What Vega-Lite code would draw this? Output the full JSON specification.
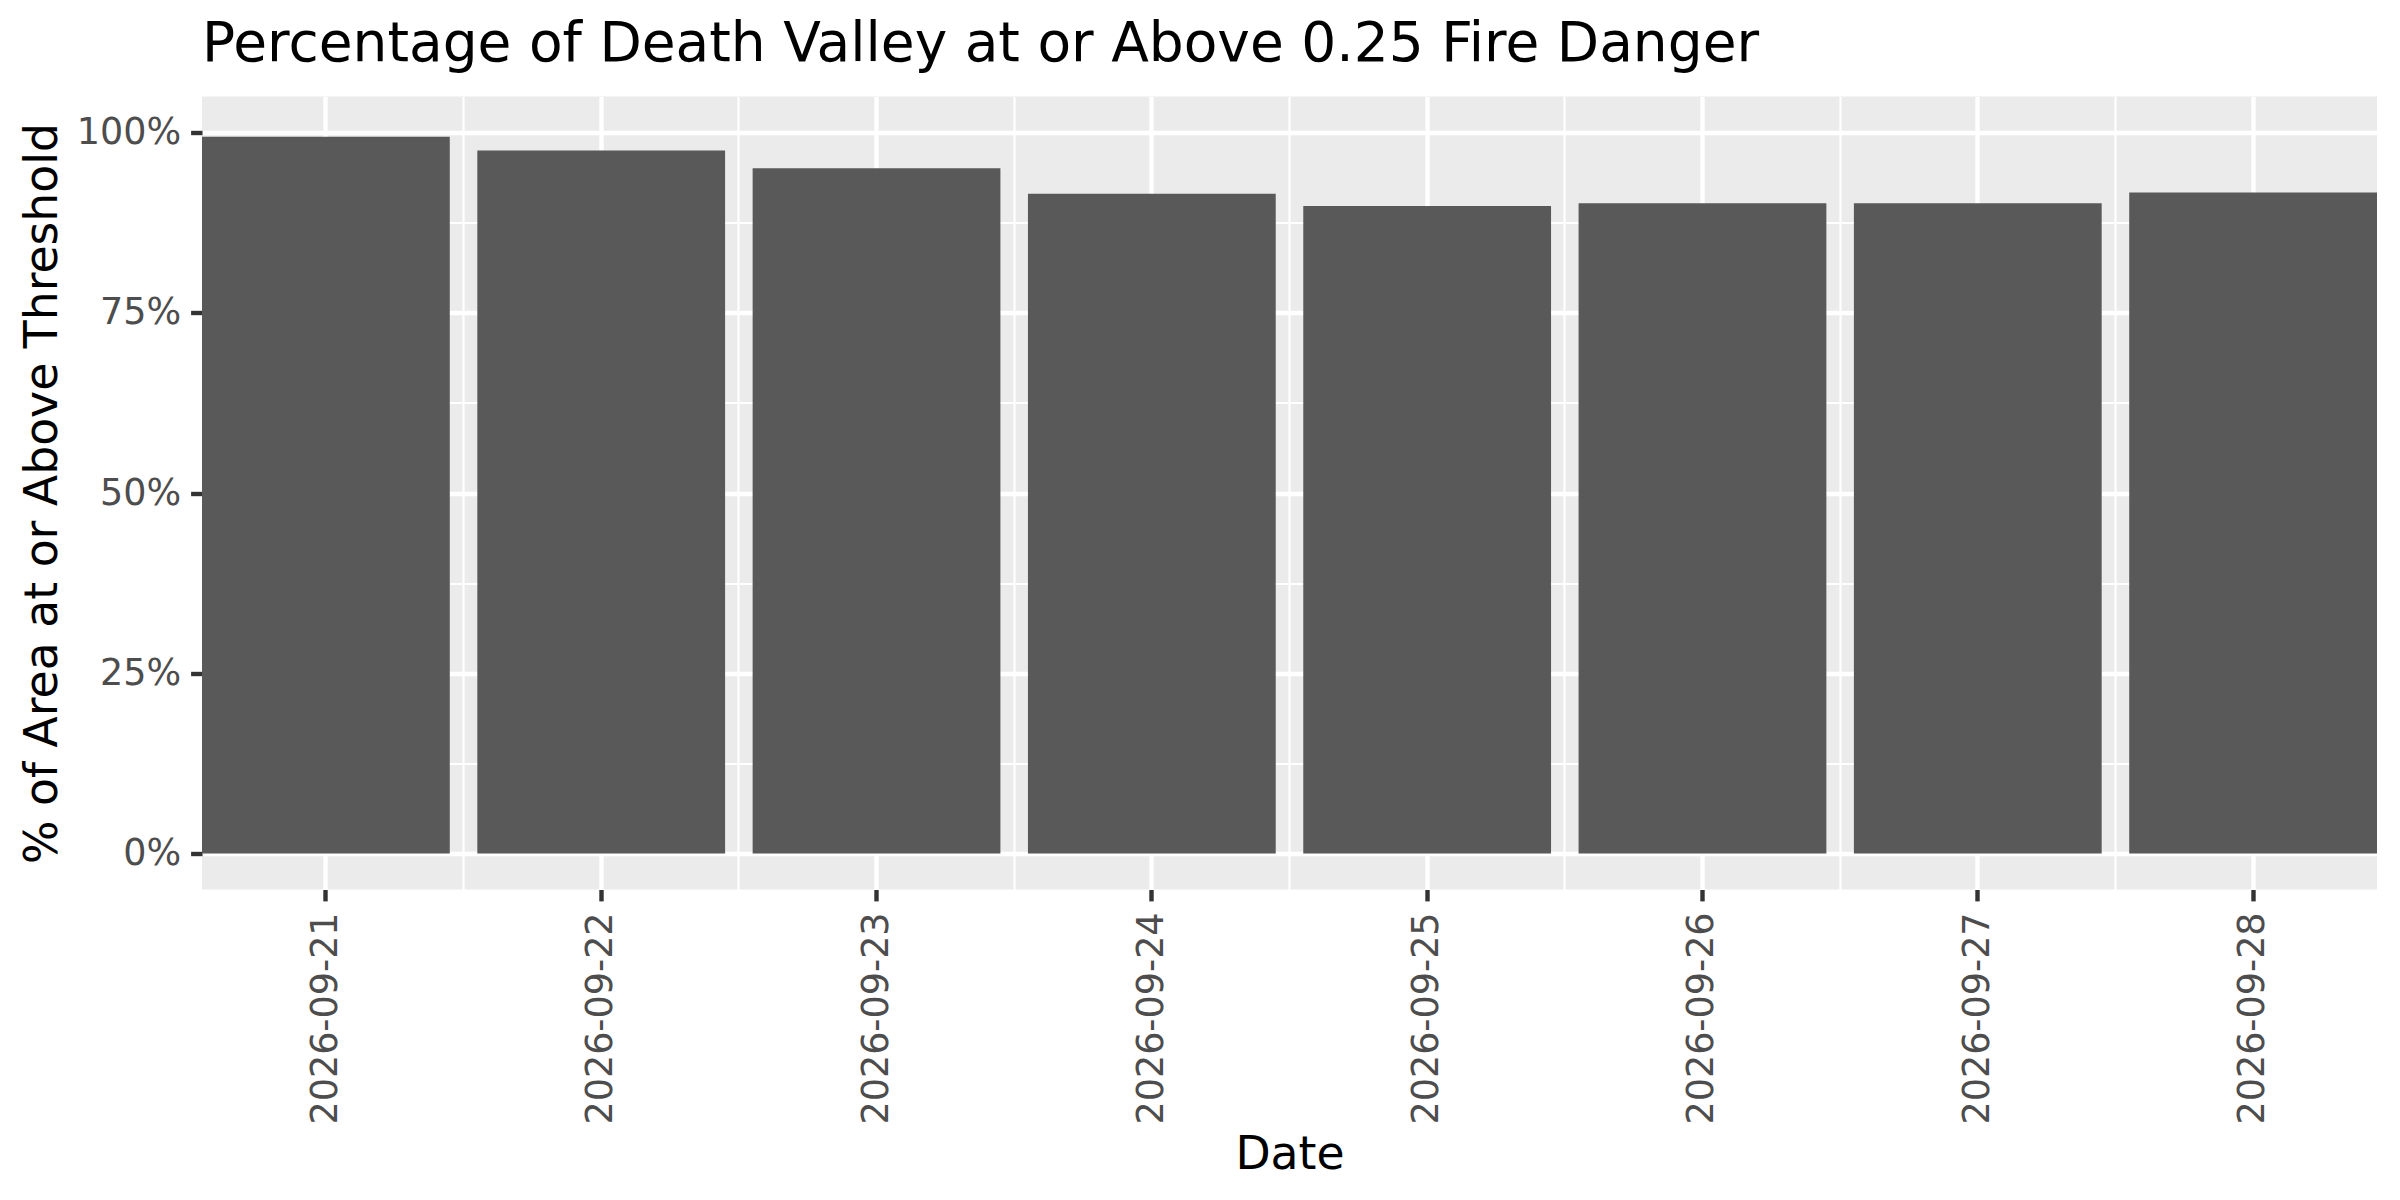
{
  "$schema": "https://vega.github.io/schema/vega-lite/v6.json",
  "width": 2175,
  "height": 793,
  "autosize": {"type": "none"},
  "padding": {"left": 202, "top": 96.5, "right": 23, "bottom": 310.5},
  "background": "white",
  "title": {
    "text": "Percentage of Death Valley at or Above 0.25 Fire Danger",
    "anchor": "start",
    "frame": "group",
    "font": "DejaVu Sans",
    "fontSize": 55,
    "fontWeight": "normal",
    "color": "#000000",
    "baseline": "alphabetic",
    "offset": 34,
    "dy": 53
  },
  "config": {
    "view": {"fill": "#EBEBEB", "stroke": null}
  },
  "data": {
    "values": [
      {"date": "2026-09-21", "pct": 0.994},
      {"date": "2026-09-22", "pct": 0.975},
      {"date": "2026-09-23", "pct": 0.9505},
      {"date": "2026-09-24", "pct": 0.915},
      {"date": "2026-09-25", "pct": 0.898},
      {"date": "2026-09-26", "pct": 0.902},
      {"date": "2026-09-27", "pct": 0.902},
      {"date": "2026-09-28", "pct": 0.917}
    ]
  },
  "layer": [
    {
      "mark": {"type": "bar", "opacity": 0},
      "encoding": {
        "x": {
          "field": "date", "type": "ordinal",
          "scale": {"paddingInner": 0.1, "paddingOuter": 0},
          "axis": {"title": null, "orient": "bottom", "bandPosition": 1.0556, "grid": true, "gridColor": "#FFFFFF", "gridWidth": 2.2, "domain": false, "ticks": false, "labels": false}
        },
        "y": {
          "field": "pct", "type": "quantitative",
          "scale": {"domain": [-0.05, 1.05], "nice": false, "zero": false},
          "axis": {"title": null, "orient": "left", "values": [0.125, 0.375, 0.625, 0.875], "grid": true, "gridColor": "#FFFFFF", "gridWidth": 2.2, "domain": false, "ticks": false, "labels": false}
        },
        "y2": {"datum": 0}
      }
    },
    {
      "mark": {"type": "bar", "fill": "#595959"},
      "encoding": {
        "x": {
          "field": "date", "type": "ordinal",
          "scale": {"paddingInner": 0.1, "paddingOuter": 0},
          "axis": {
            "title": "Date", "orient": "bottom", "bandPosition": 0.5,
            "grid": true, "gridColor": "#FFFFFF", "gridWidth": 4.4,
            "domain": false, "ticks": true, "tickSize": 11.4, "tickWidth": 4.4, "tickColor": "#333333",
            "labelAngle": 270, "labelAlign": "right", "labelBaseline": "middle", "labelLimit": 0,
            "labelFont": "DejaVu Sans", "labelFontSize": 36.5, "labelColor": "#4D4D4D", "labelPadding": 11,
            "titleFont": "DejaVu Sans", "titleFontSize": 45.7, "titleColor": "#000000", "titleFontWeight": "normal",
            "titleBaseline": "alphabetic", "titleY": 279
          }
        },
        "y": {
          "field": "pct", "type": "quantitative",
          "scale": {"domain": [-0.05, 1.05], "nice": false, "zero": false},
          "axis": {
            "title": "% of Area at or Above Threshold", "orient": "left",
            "values": [0, 0.25, 0.5, 0.75, 1], "format": ".0%",
            "grid": true, "gridColor": "#FFFFFF", "gridWidth": 4.4,
            "domain": false, "ticks": true, "tickSize": 11.4, "tickWidth": 4.4, "tickColor": "#333333",
            "labelFont": "DejaVu Sans", "labelFontSize": 36.5, "labelColor": "#4D4D4D", "labelPadding": 10,
            "titleFont": "DejaVu Sans", "titleFontSize": 45.7, "titleColor": "#000000", "titleFontWeight": "normal",
            "titleBaseline": "alphabetic", "titleX": -146
          }
        },
        "y2": {"datum": 0}
      }
    }
  ],
  "resolve": {"axis": {"x": "independent", "y": "independent"}}
}
